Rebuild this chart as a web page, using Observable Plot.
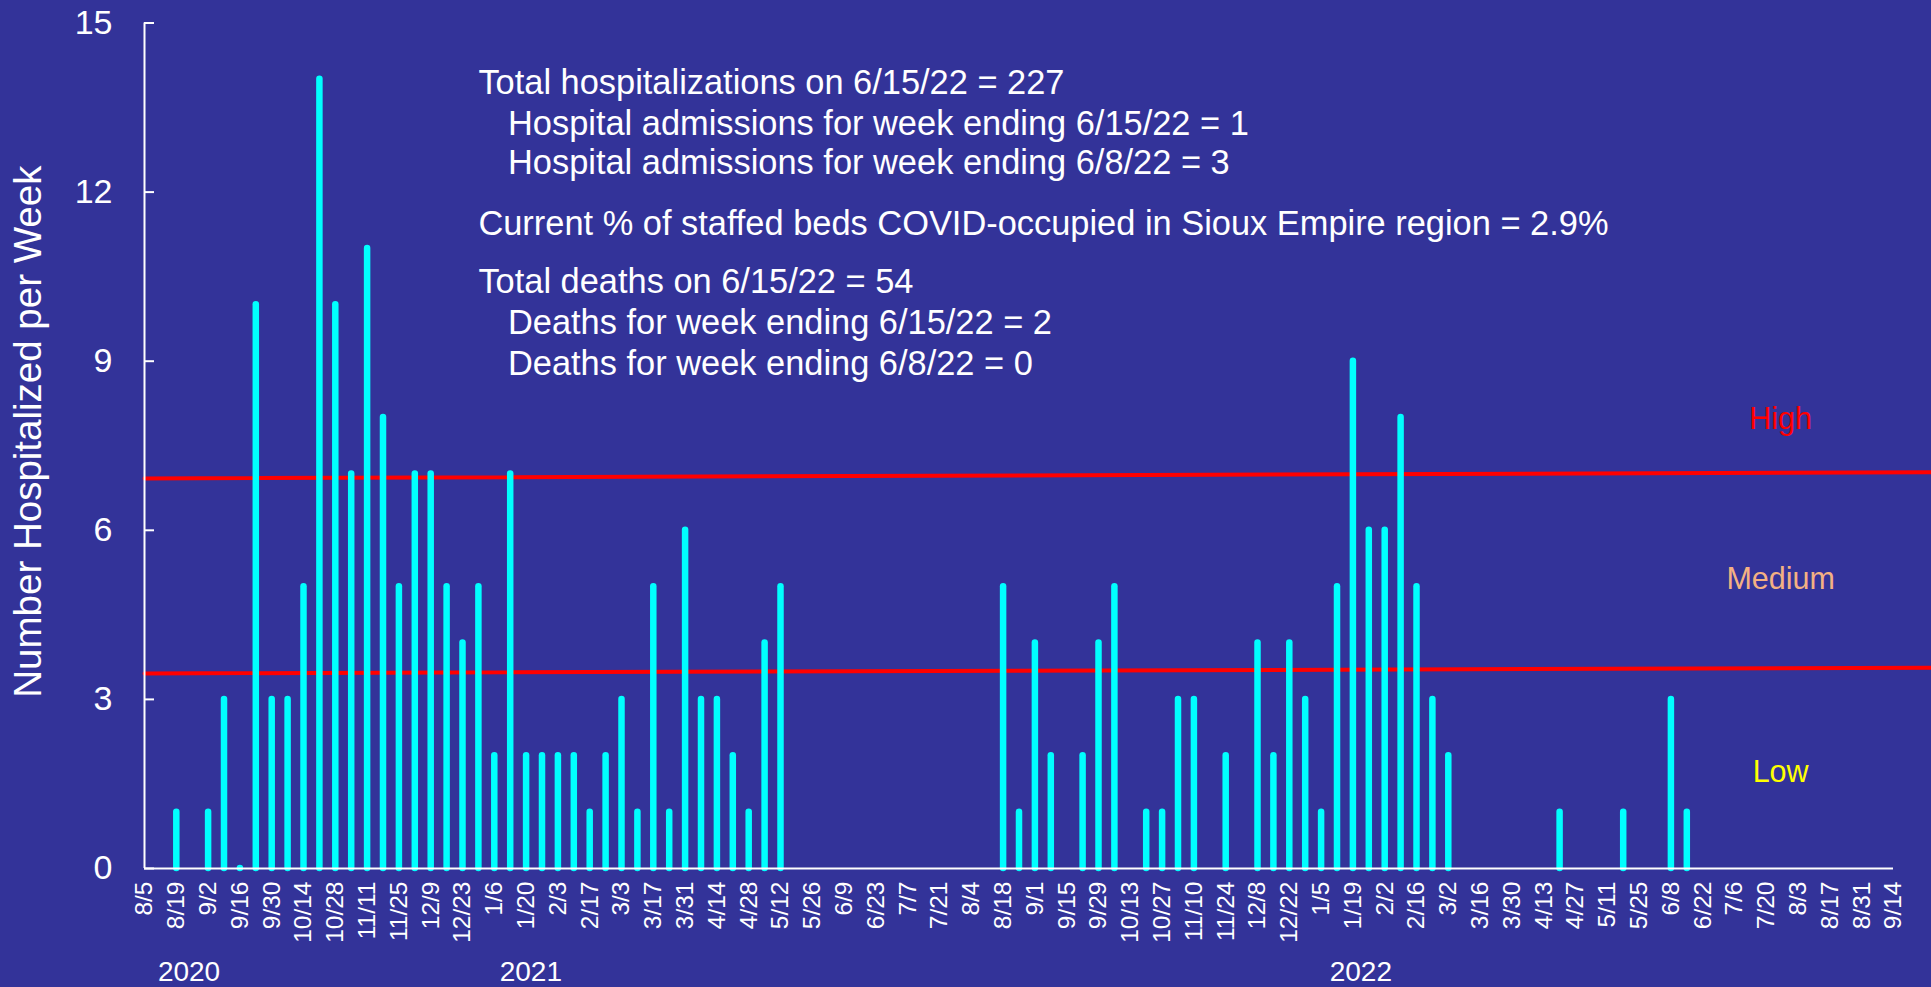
<!DOCTYPE html>
<html>
<head>
<meta charset="utf-8">
<script src="https://cdn.jsdelivr.net/npm/d3@7"></script>
<script src="https://cdn.jsdelivr.net/npm/@observablehq/plot@0.6"></script>
<style>
  html, body { margin: 0; padding: 0; background: #333399; overflow: hidden; }
  #chart svg { display: block; }
</style>
</head>
<body>
<div id="chart"></div>
<script>
// Weekly hospitalizations, week 0 = 8/5/2020 ... week 110 = 9/14/2022 (null = no bar)
const weeklyValues = [
  null, null, 1, null, 1, 3, 0, 10, 3, 3,
  5, 14, 10, 7, 11, 8, 5, 7, 7, 5,
  4, 5, 2, 7, 2, 2, 2, 2, 1, 2,
  3, 1, 5, 1, 6, 3, 3, 2, 1, 4,
  5, null, null, null, null, null, null, null, null, null,
  null, null, null, null, 5, 1, 4, 2, null, 2,
  4, 5, null, 1, 1, 3, 3, null, 2, null,
  4, 2, 4, 3, 1, 5, 9, 6, 6, 8,
  5, 3, 2, null, null, null, null, null, null, 1,
  null, null, null, 1, null, null, 3, 1, null, null,
  null, null, null, null, null, null, null, null, null, null, null
];

// x tick labels (every other week)
const weekLabels = ["8/5","8/19","9/2","9/16","9/30","10/14","10/28","11/11","11/25","12/9","12/23",
  "1/6","1/20","2/3","2/17","3/3","3/17","3/31","4/14","4/28","5/12","5/26","6/9","6/23","7/7","7/21",
  "8/4","8/18","9/1","9/15","9/29","10/13","10/27","11/10","11/24","12/8","12/22",
  "1/5","1/19","2/2","2/16","3/2","3/16","3/30","4/13","4/27","5/11","5/25","6/8","6/22","7/6","7/20",
  "8/3","8/17","8/31","9/14"];

const yTicks = [0, 3, 6, 9, 12, 15];

// year labels (x in week index)
const yearNames = ["2020", "2021", "2022"];
const yearPos = [2.8, 24.3, 76.5];

// threshold lines (drawn slightly sloped as in the original)
const highLine = [{w: 0, v: 6.92}, {w: 112.4, v: 7.03}];
const lowLine = [{w: 0, v: 3.46}, {w: 112.4, v: 3.56}];

// level labels
const levelNames = ["High", "Medium", "Low"];
const levelColors = ["#FF0000", "#F4B183", "#FFFF00"];
const levelY = [7.97, 5.13, 1.70];
const levelX = 102.9;

// annotation text block
const noteLines = [
  "Total hospitalizations on 6/15/22 = 227",
  "Hospital admissions for week ending 6/15/22 = 1",
  "Hospital admissions for week ending 6/8/22 = 3",
  "Current % of staffed beds COVID-occupied in Sioux Empire region = 2.9%",
  "Total deaths on 6/15/22 = 54",
  "Deaths for week ending 6/15/22 = 2",
  "Deaths for week ending 6/8/22 = 0"
];
const noteIndent = [false, true, true, false, false, true, true];
const noteY = [13.93, 13.21, 12.51, 11.44, 10.40, 9.68, 8.95];

const bars = weeklyValues.map((v, i) => ({week: i, value: v})).filter(d => d.value !== null);
const notes = noteLines.map((t, i) => ({text: t, x: noteIndent[i] ? 22.86 : 21.0, y: noteY[i]}));
const levels = levelNames.map((t, i) => ({text: t, color: levelColors[i], y: levelY[i]}));
const years = yearNames.map((t, i) => ({text: t, x: yearPos[i]}));
const tickWeeks = weekLabels.map((_, i) => i * 2);

const W = 1931, H = 987;
const mL = 144, mR = 38, mT = 22.5, mB = 119;
const FONT = "'Liberation Sans', Arial, Helvetica, sans-serif";

const chart = Plot.plot({
  width: W,
  height: H,
  marginLeft: mL,
  marginRight: mR,
  marginTop: mT,
  marginBottom: mB,
  style: {background: "#333399", color: "white", fontFamily: FONT},
  x: {type: "linear", domain: [0, 110], label: null},
  y: {domain: [0, 15], label: null},
  marks: [
    // threshold lines
    Plot.line(highLine, {x: "w", y: "v", stroke: "#FF0000", strokeWidth: 4, clip: false}),
    Plot.line(lowLine, {x: "w", y: "v", stroke: "#FF0000", strokeWidth: 4, clip: false}),
    // bars
    Plot.ruleX(bars, {x: "week", y1: 0, y2: "value", stroke: "#00FFFF", strokeWidth: 6.5, strokeLinecap: "round"}),
    // axes lines
    Plot.ruleX([0], {stroke: "white", strokeWidth: 2}),
    Plot.ruleY([0], {stroke: "white", strokeWidth: 2}),
    // inward y ticks
    Plot.ruleY(yTicks, {stroke: "white", strokeWidth: 2, insetRight: W - mL - mR - 10}),
    Plot.axisY({ticks: yTicks, tickSize: 0, tickPadding: 32, fontSize: 34, label: null}),
    Plot.axisX({ticks: tickWeeks, tickFormat: d => weekLabels[d / 2], tickSize: 0, tickRotate: -90, tickPadding: 13, fontSize: 24.5, label: null}),
    // year labels
    Plot.text(years, {x: "x", frameAnchor: "bottom", dy: 112, text: "text", fontSize: 28, fill: "white"}),
    // y axis title
    Plot.text(["Number Hospitalized per Week"], {x: 0, y: 7.75, dx: -116, rotate: -90, text: d => d, fontSize: 38.5, fill: "white"}),
    // annotation
    Plot.text(notes, {x: "x", y: "y", text: "text", textAnchor: "start", fontSize: 34.4, fill: "white"}),
    // level labels
    Plot.text(levels, {x: levelX, y: "y", text: "text", fill: "color", fontSize: 30.5})
  ]
});

document.getElementById("chart").appendChild(chart);
</script>
</body>
</html>
